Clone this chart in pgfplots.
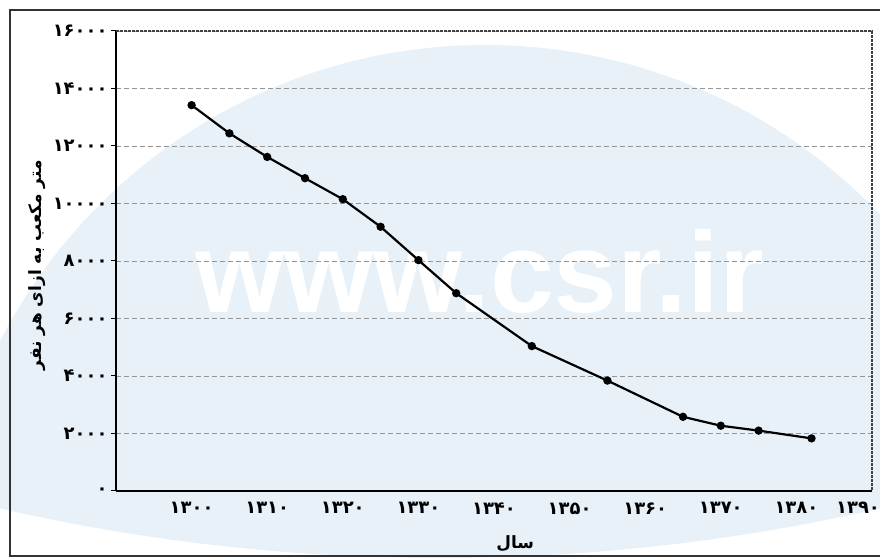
\documentclass[border=0pt]{standalone}
\usepackage{pgfplots}
\pgfplotsset{compat=1.18}
\usepackage{fontspec}
\setmainfont{DejaVu Sans}
\newfontfamily\fa[Script=Arabic]{DejaVu Sans}
\newfontfamily\wmfont{Liberation Sans}
\TeXXeTstate=1
\definecolor{wmblue}{RGB}{232,241,248}
\definecolor{gridc}{RGB}{150,150,150}

\begin{document}
\begin{tikzpicture}[x=1bp,y=1bp]
\begin{scope}
\clip (440,1961) circle (1961);
\fill[wmblue] (485,-32) circle (545);
\end{scope}
\node[anchor=base west, inner sep=0pt, text=white, font=\wmfont\bfseries\fontsize{115}{115}\selectfont] at (195,245) {www.csr.ir};
\draw[line width=1.5bp, black!80] (10,2) rectangle (910,548);
\begin{axis}[
  at={(116bp,67bp)}, anchor=south west,
  scale only axis, width=756bp, height=460bp,
  xmin=1290, xmax=1390, ymin=0, ymax=16000,
  scaled y ticks=false, scaled x ticks=false,
  axis x line*=bottom, axis y line*=left,
  axis line style={line width=1.5bp, black},
  xtick={1300,1310,...,1380},
  xticklabels={{۱۳۰۰},{۱۳۱۰},{۱۳۲۰},{۱۳۳۰},{۱۳۴۰},{۱۳۵۰},{۱۳۶۰},{۱۳۷۰},{۱۳۸۰}},
  extra x ticks={1390},
  extra x tick labels={{۱۳۹۰}},
  extra x tick style={xticklabel style={xshift=-14bp}},
  ytick={0,2000,...,16000},
  yticklabels={{۰},{۲۰۰۰},{۴۰۰۰},{۶۰۰۰},{۸۰۰۰},{۱۰۰۰۰},{۱۲۰۰۰},{۱۴۰۰۰},{۱۶۰۰۰}},
  ticklabel style={font=\fa\bfseries\fontsize{18}{18}\selectfont},
  xticklabel style={yshift=-3bp},
  x tick style={draw=none},
  y tick style={line width=1bp,black},
  major tick length=5bp, tick align=outside,
  ymajorgrids, grid style={gridc, line width=0.7bp, dash pattern=on 5bp off 3bp},
  xlabel={\fa\bfseries\beginR سال\endR},
  ylabel={\fa\bfseries\beginR متر مکعب به ازای هر نفر\endR},
  label style={font=\fa\bfseries\fontsize{17}{17}\selectfont},
  xlabel style={at={(axis description cs:0.528,0)}, anchor=base, yshift=-58bp},
  ylabel style={at={(axis description cs:-0.1045,0.491)}, anchor=center},
  clip=false,
]
\draw[black!75, line width=1.2bp, dash pattern=on 3bp off 1bp] (rel axis cs:0,1) -- (rel axis cs:1,1) -- (rel axis cs:1,0);
\addplot[black, line width=2.2bp, mark=*, mark size=3bp] coordinates {
(1300,13420) (1305,12440) (1310,11620) (1315,10880) (1320,10150) (1325,9190) (1330,8030) (1335,6880) (1345,5040) (1355,3840) (1365,2580) (1370,2270) (1375,2100) (1382,1830)
};
\end{axis}
\pgfresetboundingbox
\path[use as bounding box] (0,0) rectangle (880,558);
\end{tikzpicture}
\end{document}
